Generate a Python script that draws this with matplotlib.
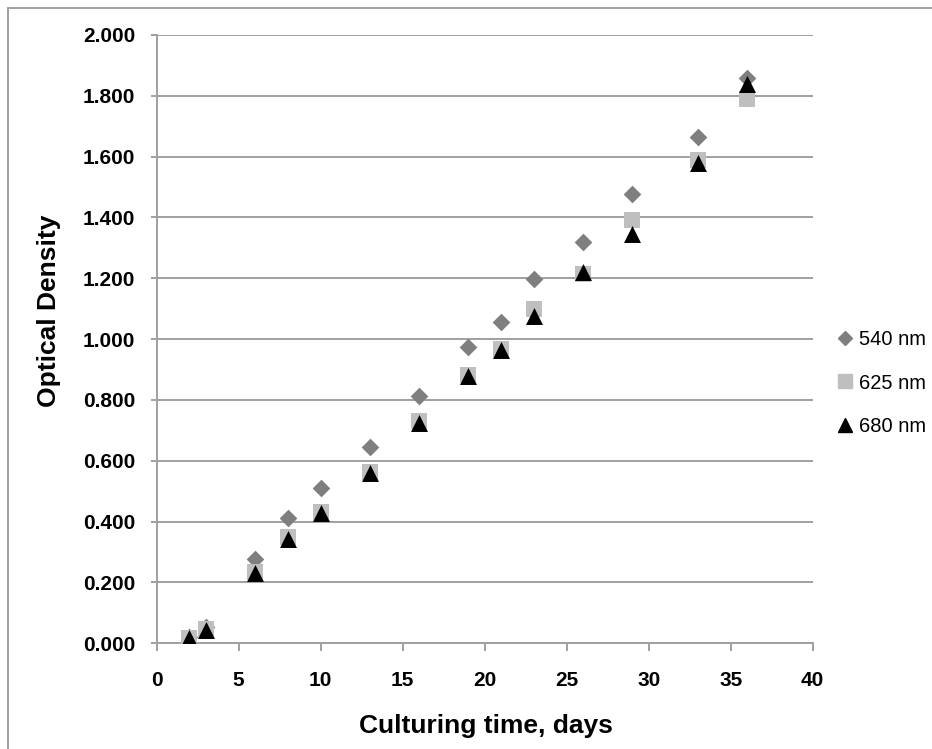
import matplotlib.pyplot as plt
from matplotlib.lines import Line2D

# Datos
dias = [2, 3, 6, 8, 10, 13, 16, 19, 21, 23, 26, 29, 33, 36]
od_540 = [0.020, 0.055, 0.278, 0.412, 0.509, 0.647, 0.814, 0.974, 1.056, 1.199, 1.320, 1.478, 1.666, 1.860]
od_625 = [0.016, 0.046, 0.236, 0.348, 0.432, 0.563, 0.730, 0.883, 0.968, 1.100, 1.213, 1.393, 1.590, 1.790]
od_680 = [0.016, 0.044, 0.230, 0.343, 0.429, 0.559, 0.724, 0.880, 0.965, 1.075, 1.221, 1.347, 1.578, 1.839]

yticks = [0.0, 0.2, 0.4, 0.6, 0.8, 1.0, 1.2, 1.4, 1.6, 1.8, 2.0]
xticks = [0, 5, 10, 15, 20, 25, 30, 35, 40]

plt.rcParams['font.family'] = ['Liberation Sans', 'DejaVu Sans']
plt.rcParams['font.weight'] = 'bold'
gris = '#a0a0a0'

fig = plt.figure(figsize=(9.32, 7.49), dpi=100)
ax = fig.add_axes([0.1681, 0.1411, 0.872 - 0.1681, 0.9533 - 0.1411])

ax.scatter(dias, od_540, marker='D', s=9.0**2, color='#7f7f7f', label='540 nm', zorder=3, linewidths=0)
ax.scatter(dias, od_625, marker='s', s=12.2**2, color='#bfbfbf', label='625 nm', zorder=4, linewidths=0)
ax.scatter(dias, od_680, marker='^', s=12.2**2, color='black', label='680 nm', zorder=5, linewidths=0)

ax.set_xlim(0, 40)
ax.set_ylim(0, 2.0)
ax.set_xticks(xticks)
ax.set_yticks(yticks)
ax.set_yticklabels(["{:.3f}".format(v) for v in yticks])
ax.yaxis.grid(True, color=gris, linewidth=1.4)
ax.set_axisbelow(True)

for lado in ['top', 'right']:
    ax.spines[lado].set_visible(False)
for lado in ['left', 'bottom']:
    ax.spines[lado].set_color(gris)
    ax.spines[lado].set_linewidth(1.4)

ax.tick_params(axis='y', direction='out', length=4.5, width=1.4, color=gris, pad=11, labelsize=15)
ax.tick_params(axis='x', direction='out', length=6, width=1.4, color=gris, pad=14, labelsize=15)

fig.text(486 / 932, 1 - 726 / 749, 'Culturing time, days', ha='center', va='center', fontsize=19, fontweight='bold')
fig.text(49 / 932, 1 - 311 / 749, 'Optical Density', ha='center', va='center', rotation=90, fontsize=19, fontweight='bold')

# Leyenda
handles = [
    Line2D([], [], marker='D', linestyle='', color='#7f7f7f', markersize=7.5),
    Line2D([], [], marker='s', linestyle='', color='#bfbfbf', markersize=10.5),
    Line2D([], [], marker='^', linestyle='', color='black', markersize=10.5),
]
fig.legend(handles, ['540 nm', '625 nm', '680 nm'], loc='center left',
           bbox_to_anchor=(0.887, 1 - 383 / 749), frameon=False,
           prop={'family': ['Liberation Sans', 'DejaVu Sans'], 'size': 14.5, 'weight': 'normal'},
           handlelength=0.8, handletextpad=0.3, labelspacing=1.2, borderpad=0)

# Borde exterior
fig.add_artist(Line2D([8 / 932, 8 / 932], [0, 1 - 8 / 749], color=gris, linewidth=1.4))
fig.add_artist(Line2D([8 / 932, 1], [1 - 8 / 749, 1 - 8 / 749], color=gris, linewidth=1.4))

fig.savefig('out.png', dpi=100)
